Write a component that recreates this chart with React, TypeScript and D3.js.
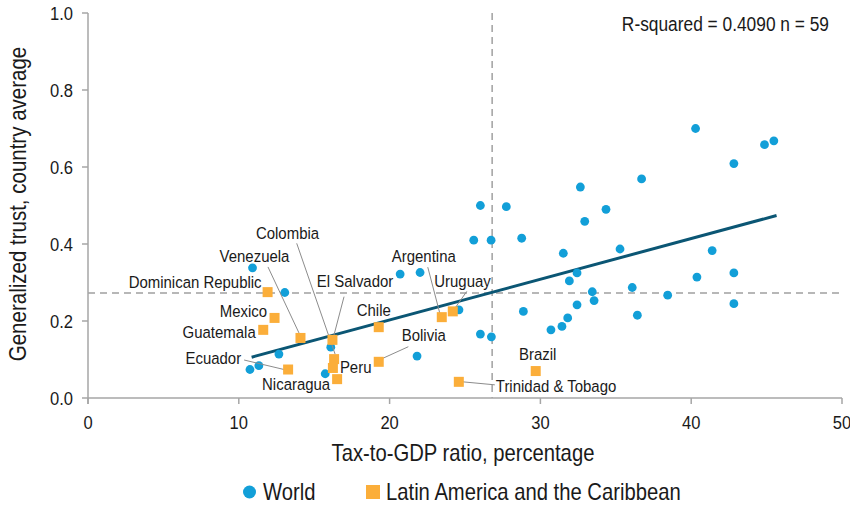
import React from 'react';
import * as d3 from 'd3';

// ---------- data ----------
const xTicks = [0, 10, 20, 30, 40, 50];
const yTicks = [0, 0.2, 0.4, 0.6, 0.8, 1.0];

const worldX = [
  10.91, 13.05, 20.7, 22.02, 25.58, 26.73, 16.1, 12.66, 10.74, 11.33, 15.73, 21.82, 26.02, 26.75, 24.6,
  26.02, 27.74, 28.76, 32.65, 32.94, 34.35, 36.71, 31.52, 35.28, 40.29, 44.86, 45.48, 42.83, 41.39,
  40.38, 42.83, 42.83, 38.44, 36.09, 36.43, 32.43, 31.92, 33.44, 33.56, 32.43, 28.87, 31.81, 31.43, 30.7,
];
const worldY = [
  0.338, 0.274, 0.322, 0.326, 0.41, 0.41, 0.132, 0.114, 0.074, 0.084, 0.063, 0.109, 0.166, 0.159, 0.229,
  0.5, 0.497, 0.415, 0.548, 0.459, 0.49, 0.569, 0.376, 0.387, 0.7, 0.658, 0.668, 0.609, 0.383,
  0.314, 0.325, 0.245, 0.267, 0.287, 0.215, 0.325, 0.304, 0.276, 0.253, 0.242, 0.225, 0.208, 0.186, 0.177,
];

const lacNames = [
  'Dominican Republic', 'Mexico', 'Guatemala', 'Venezuela', 'Colombia', 'El Salvador', 'Peru',
  'Nicaragua', 'Chile', 'Bolivia', 'Argentina', 'Uruguay', 'Ecuador', 'Trinidad & Tobago', 'Brazil',
];
const lacX = [11.91, 12.37, 11.62, 14.09, 16.32, 16.21, 16.24, 16.52, 19.28, 19.28, 23.46, 24.19, 13.27, 24.59, 29.69];
const lacY = [0.275, 0.208, 0.177, 0.156, 0.101, 0.151, 0.078, 0.049, 0.184, 0.094, 0.21, 0.225, 0.074, 0.042, 0.07];

const fitX = [10.85, 45.66];
const fitY = [0.106, 0.474];
const refX = 26.8;
const refY = 0.273;

const statText = 'R-squared = 0.4090 n = 59';
const xTitle = 'Tax-to-GDP ratio, percentage';
const yTitle = 'Generalized trust, country average';
const legendLabels = ['World', 'Latin America and the Caribbean'];

// ---------- label layout (pixel offsets from the square centre) ----------
type Lay = { dx: number; dy: number; anchor: 'start' | 'middle' | 'end'; leader?: [number, number, number, number] };
const labelLayout: Record<string, Lay> = {
  'Dominican Republic': { dx: -6, dy: -4, anchor: 'end' },
  Mexico: { dx: -7.5, dy: -1, anchor: 'end' },
  Guatemala: { dx: -7.5, dy: 8, anchor: 'end' },
  Venezuela: { dx: -46, dy: -76, anchor: 'middle', leader: [-32.5, -71, -1.5, -5] },
  Colombia: { dx: -46.6, dy: -120, anchor: 'middle', leader: [-37.4, -115.8, 1, -5] },
  'El Salvador': { dx: 22.6, dy: -53, anchor: 'middle', leader: [11.6, -43.2, 1.6, -5] },
  Peru: { dx: 7, dy: 4.7, anchor: 'start' },
  Nicaragua: { dx: -41, dy: 11, anchor: 'middle' },
  Chile: { dx: -5, dy: -11, anchor: 'middle' },
  Bolivia: { dx: 45, dy: -21, anchor: 'middle', leader: [29.6, -15.1, 3, -3] },
  Argentina: { dx: -18, dy: -55.5, anchor: 'middle', leader: [-14, -50, -2, -4] },
  Uruguay: { dx: 9.7, dy: -24.7, anchor: 'middle', leader: [14, -20, 2, -3] },
  Ecuador: { dx: -47, dy: -5.5, anchor: 'end', leader: [-44, -9.5, -2, 0.5] },
  'Trinidad & Tobago': { dx: 37, dy: 10, anchor: 'start', leader: [4, 0, 36, 3] },
  Brazil: { dx: 2, dy: -11, anchor: 'middle' },
};

// ---------- styles ----------
const W = 850;
const H = 506;
const FONT = "'Liberation Sans', Arial, sans-serif";
const SX = 0.88;
const TEXT = '#1a1a1a';
const AXIS = '#a6a6a6';
const BLUE = '#129fd8';
const ORANGE = '#fbae3a';
const FIT = '#0b5674';

function Txt(props: { x: number; y: number; size: number; anchor?: string; rotate?: number; children: React.ReactNode }) {
  const { x, y, size, anchor = 'start', rotate = 0, children } = props;
  return (
    <text
      transform={`translate(${x},${y})${rotate ? ` rotate(${rotate})` : ''} scale(${SX},1)`}
      fontSize={size}
      textAnchor={anchor as any}
      fill={TEXT}
      fontFamily={FONT}
    >
      {children}
    </text>
  );
}

export default function App() {
  const x = d3.scaleLinear().domain([0, 50]).range([88, 842]);
  const y = d3.scaleLinear().domain([0, 1]).range([398, 13]);
  const fitLine = d3.line<number>().x((d) => x(fitX[d])).y((d) => y(fitY[d]));

  return (
    <svg width={W} height={H} style={{ position: 'absolute', left: 0, top: 0, background: '#fff' }}>
      {/* reference dashed lines */}
      <line x1={x(refX)} x2={x(refX)} y1={y(1)} y2={y(0)} stroke="#a0a0a0" strokeWidth={1.5} strokeDasharray="7,5" />
      <line x1={x(0)} x2={x(50)} y1={y(refY)} y2={y(refY)} stroke="#a0a0a0" strokeWidth={1.5} strokeDasharray="7,5" />

      {/* axes */}
      <line x1={x(0)} x2={x(0)} y1={y(1)} y2={y(0) + 6} stroke={AXIS} strokeWidth={1.5} />
      <line x1={x(0)} x2={x(50)} y1={y(0)} y2={y(0)} stroke={AXIS} strokeWidth={1.5} />
      {yTicks.map((t) => (
        <g key={'y' + t}>
          <line x1={x(0) - 6} x2={x(0)} y1={y(t)} y2={y(t)} stroke={AXIS} strokeWidth={1.5} />
          <Txt x={73} y={y(t) + 6.5} size={18.8} anchor="end">{d3.format('.1f')(t)}</Txt>
        </g>
      ))}
      {xTicks.map((t) => (
        <g key={'x' + t}>
          <line x1={x(t)} x2={x(t)} y1={y(0)} y2={y(0) + 6} stroke={AXIS} strokeWidth={1.5} />
          <Txt x={x(t)} y={429} size={18.8} anchor="middle">{String(t)}</Txt>
        </g>
      ))}

      {/* regression line */}
      <path d={fitLine([0, 1]) || ''} stroke={FIT} strokeWidth={3} fill="none" />

      {/* world points */}
      {worldX.map((wx, i) => (
        <circle key={'w' + i} cx={x(wx)} cy={y(worldY[i])} r={4.4} fill={BLUE} />
      ))}

      {/* leaders */}
      {lacNames.map((n, i) => {
        const L = labelLayout[n];
        if (!L || !L.leader) return null;
        const cx = x(lacX[i]);
        const cy = y(lacY[i]);
        return (
          <line key={'l' + n} x1={cx + L.leader[0]} y1={cy + L.leader[1]} x2={cx + L.leader[2]} y2={cy + L.leader[3]} stroke="#8c8c8c" strokeWidth={1} />
        );
      })}

      {/* LAC squares */}
      {lacX.map((lx, i) => (
        <rect key={'s' + i} x={x(lx) - 5} y={y(lacY[i]) - 5} width={10} height={10} fill={ORANGE} />
      ))}

      {/* labels */}
      {lacNames.map((n, i) => {
        const L = labelLayout[n];
        return (
          <Txt key={'t' + n} x={x(lacX[i]) + L.dx} y={y(lacY[i]) + L.dy} size={17} anchor={L.anchor}>
            {n}
          </Txt>
        );
      })}

      {/* stat text */}
      <Txt x={829} y={31} size={19.7} anchor="end">{statText}</Txt>

      {/* axis titles */}
      <Txt x={463} y={461} size={23} anchor="middle">{xTitle}</Txt>
      <Txt x={26} y={204} size={23.3} anchor="middle" rotate={-90}>{yTitle}</Txt>

      {/* legend */}
      <circle cx={249.5} cy={492} r={6.5} fill={BLUE} />
      <Txt x={263} y={500} size={23}>{legendLabels[0]}</Txt>
      <rect x={366} y={485} width={14} height={14} fill={ORANGE} />
      <Txt x={386} y={500} size={23}>{legendLabels[1]}</Txt>
    </svg>
  );
}
